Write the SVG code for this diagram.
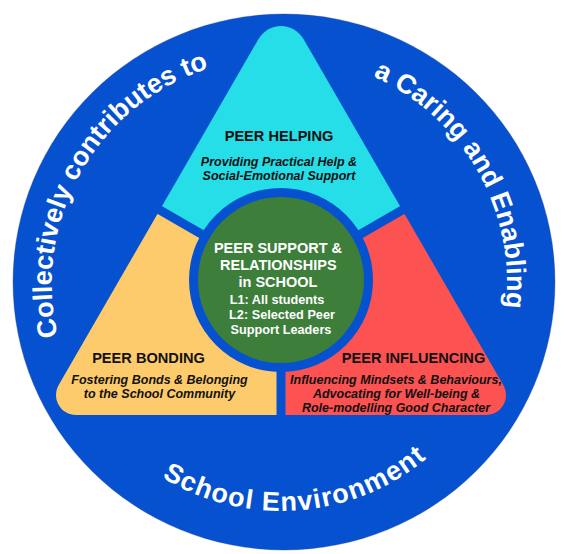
<svg xmlns="http://www.w3.org/2000/svg" width="569" height="554" viewBox="0 0 569 554">
<style>
.h{font-family:"Liberation Sans",Arial,sans-serif;font-weight:bold;font-size:14.6px;fill:#111;text-anchor:middle}
.d{font-family:"Liberation Sans",Arial,sans-serif;font-weight:bold;font-style:italic;font-size:12.5px;fill:#111;text-anchor:middle}
.c1{font-family:"Liberation Sans",Arial,sans-serif;font-weight:bold;font-size:14.5px;fill:#fff;text-anchor:middle}
.c2{font-family:"Liberation Sans",Arial,sans-serif;font-weight:bold;font-size:12.7px;fill:#fff;text-anchor:middle}
.arc{font-family:"Liberation Sans",Arial,sans-serif;font-weight:bold;font-size:27px;fill:#fff}
.gap{stroke:#0651CF;stroke-width:9;fill:none}
</style>
<defs>
<path id="tri" d="M303.5,39 L503.3,385 A20,20 0 0 1 486,415 L76,415 A20,20 0 0 1 58.7,385 L258.5,39 A26,26 0 0 1 303.5,39 Z"/>
<clipPath id="cTop"><polygon points="281,280 -65.4,80 -65,-100 627,-100 627.4,80"/></clipPath>
<clipPath id="cLeft"><polygon points="281,280 -65.4,80 -65,600 281,600"/></clipPath>
<clipPath id="cRight"><polygon points="281,280 281,600 627,600 627.4,80"/></clipPath>
<path id="pL" d="M57.9,336 A226,226 0 0 1 241.8,60.4"/>
<path id="pR" d="M372.9,76.5 A226,226 0 0 1 493.4,360.3"/>
<path id="pB" d="M89.8,407.2 A228,228 0 0 0 484.1,386.5"/>
</defs>
<rect width="569" height="554" fill="#fff"/>
<g id="environment">
<ellipse cx="284" cy="282" rx="271" ry="268" fill="#0651CF" stroke="#2c3f8f" stroke-opacity="0.35" stroke-width="1"/>
<text class="arc"><textPath href="#pL">Collectively contributes to</textPath></text>
<text class="arc"><textPath href="#pR">a Caring and Enabling</textPath></text>
<text class="arc" letter-spacing="1.2"><textPath href="#pB" startOffset="51%" text-anchor="middle">School Environment</textPath></text>
</g>
<g id="peer-helping">
<use href="#tri" fill="#25DEE8" clip-path="url(#cTop)"/>
<text class="h" x="279" y="141">PEER HELPING</text>
<text class="d" x="279" y="165.5">Providing Practical Help &amp;</text>
<text class="d" x="279" y="180">Social-Emotional Support</text>
</g>
<g id="peer-bonding">
<use href="#tri" fill="#FECB6C" clip-path="url(#cLeft)"/>
<text class="h" x="148.5" y="363">PEER BONDING</text>
<text class="d" x="159.5" y="383.5">Fostering Bonds &amp; Belonging</text>
<text class="d" x="159.5" y="397.5">to the School Community</text>
</g>
<g id="peer-influencing">
<use href="#tri" fill="#FC5252" clip-path="url(#cRight)"/>
<text class="h" x="413.5" y="363">PEER INFLUENCING</text>
<text class="d" x="396" y="383.5">Influencing Mindsets &amp; Behaviours,</text>
<text class="d" x="396.5" y="397.5">Advocating for Well-being &amp;</text>
<text class="d" x="396" y="411.5">Role-modelling Good Character</text>
</g>
<g id="connectors">
<path class="gap" d="M281,280 L140,198.6 M281,280 L422,198.6 M281,280 L281,430"/>
<circle cx="281" cy="280" r="92" fill="#0651CF"/>
</g>
<g id="peer-support-core">
<circle cx="281" cy="280" r="83" fill="#3D7E3B"/>
<text class="c1" x="278" y="252.5">PEER SUPPORT &amp;</text>
<text class="c1" x="278.3" y="269.5">RELATIONSHIPS</text>
<text class="c1" x="278" y="287">in SCHOOL</text>
<text class="c2" x="277" y="303.5">L1: All students</text>
<text class="c2" x="282" y="318.5">L2: Selected Peer</text>
<text class="c2" x="281" y="333.5">Support Leaders</text>
</g>
</svg>
